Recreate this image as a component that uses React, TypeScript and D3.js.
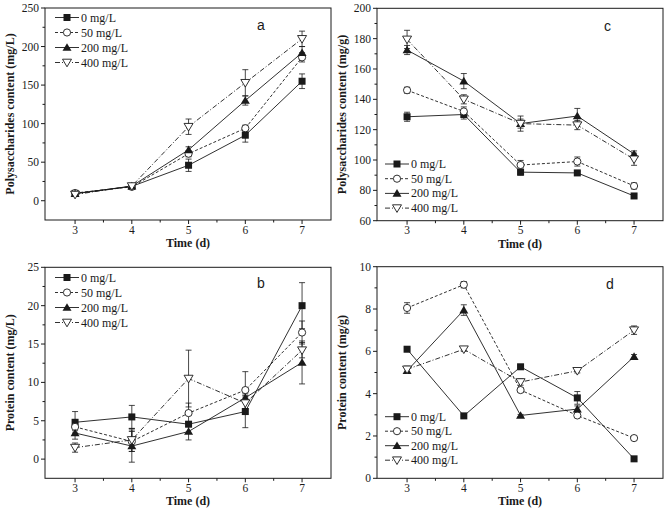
import React from "react";
import * as d3 from "d3";

const days = [3, 4, 5, 6, 7];
const seriesNames = ["0 mg/L", "50 mg/L", "200 mg/L", "400 mg/L"];

// Panel a: Polysaccharides content (mg/L)
const a0 = [9.5, 18.6, 46, 85, 155];
const a0e = [1, 1, 8, 9, 9.5];
const a50 = [10, 18, 61, 94, 186];
const a50e = [1, 1, 4, 4, 6];
const a200 = [9, 19, 66, 130, 192];
const a200e = [1, 1, 4, 6, 8];
const a400 = [8, 19, 96, 153, 210];
const a400e = [1, 2, 10, 17, 10];

// Panel b: Protein content (mg/L)
const b0 = [4.8, 5.5, 4.55, 6.2, 20];
const b0e = [1.4, 1.5, 0.3, 2.1, 3];
const b50 = [4.2, 2.3, 6.0, 9.0, 16.5];
const b50e = [0.5, 1.3, 1.3, 2.4, 1.5];
const b200 = [3.4, 1.7, 3.6, 8.0, 12.6];
const b200e = [0.8, 2.1, 1.1, 0.5, 2.8];
const b400 = [1.5, 2.5, 10.5, 7.3, 14.2];
const b400e = [0.6, 1.5, 3.7, 0.8, 1];

// Panel c: Polysaccharides content (mg/g)
const c0 = [128.5, 130, 92, 91.5, 76.3];
const c0e = [3, 3, 2, 1, 1];
const c50 = [146, 132, 96.7, 99, 82.9];
const c50e = [2, 3, 3, 3, 2];
const c200 = [172.5, 152, 124, 129, 104];
const c200e = [3, 5, 3, 5, 2];
const c400 = [179.5, 140, 124, 123, 100.5];
const c400e = [6, 3, 5, 3, 4];

// Panel d: Protein content (mg/g)
const d0 = [6.1, 2.95, 5.27, 3.8, 0.92];
const d0e = [0.05, 0.05, 0.05, 0.3, 0.05];
const d50 = [8.05, 9.15, 4.17, 2.97, 1.9];
const d50e = [0.25, 0.15, 0.1, 0.1, 0.1];
const d200 = [5.08, 7.95, 2.97, 3.27, 5.75];
const d200e = [0.1, 0.25, 0.05, 0.15, 0.1];
const d400 = [5.15, 6.1, 4.55, 5.08, 7.0];
const d400e = [0.15, 0.1, 0.15, 0.1, 0.2];

const aTicks = [0, 50, 100, 150, 200, 250];
const bTicks = [0, 5, 10, 15, 20, 25];
const cTicks = [60, 80, 100, 120, 140, 160, 180, 200];
const dTicks = [0, 2, 4, 6, 8, 10];
const xMinor = [3.5, 4.5, 5.5, 6.5];

const INK = "#1a1a1a";
const SERIF = "'Liberation Serif', 'Times New Roman', serif";
const SANS = "'Liberation Sans', Arial, sans-serif";
const dashes = [null, "3,2", null, "5,2,1,2"];

type PanelProps = {
  left: number; right: number; top: number; bottom: number;
  yDomain: [number, number]; yTicks: number[]; yMinorStep: number;
  ylabel: string; ylabelX: number; letter: string; letterX: number; letterY: number;
  legX: number; legY: number; legStep: number;
  vals: number[][]; errs: number[][];
};

function Marker({ kind, x, y }: { kind: number; x: number; y: number }) {
  if (kind === 0) return <rect x={x - 3.5} y={y - 3.5} width={7} height={7} fill={INK} />;
  if (kind === 1) return <circle cx={x} cy={y} r={3.6} fill="#fff" stroke={INK} strokeWidth={0.9} />;
  if (kind === 2) return <path d={`M${x},${y - 4.3}L${x + 4.5},${y + 3.3}L${x - 4.5},${y + 3.3}Z`} fill={INK} />;
  return <path d={`M${x},${y + 4.3}L${x + 4.5},${y - 3.3}L${x - 4.5},${y - 3.3}Z`} fill="#fff" stroke={INK} strokeWidth={0.9} />;
}

function Panel(p: PanelProps) {
  const x = d3.scaleLinear().domain([2.47, 7.51]).range([p.left, p.right]);
  const y = d3.scaleLinear().domain(p.yDomain).range([p.bottom, p.top]);
  const line = d3.line<number>().x((_, i) => x(days[i])).y((v) => y(v));
  const minor: number[] = [];
  for (let v = p.yDomain[0]; v <= p.yDomain[1] + 1e-9; v += p.yMinorStep) {
    if (!p.yTicks.some((t) => Math.abs(t - v) < 1e-6) && v > p.yDomain[0] + 1e-6 && v < p.yDomain[1] - 1e-6) minor.push(v);
  }
  const midX = (p.left + p.right) / 2;
  const midY = (p.top + p.bottom) / 2;
  return (
    <g>
      {p.vals.map((vs, k) => (
        <path key={"l" + k} d={line(vs) || ""} fill="none" stroke={INK} strokeWidth={0.9}
          strokeDasharray={dashes[k] || undefined} />
      ))}
      {p.vals.map((vs, k) =>
        vs.map((v, i) => {
          const e = p.errs[k][i];
          const cx = x(days[i]);
          const y1 = y(v + e), y2 = y(v - e);
          return (
            <g key={"e" + k + "-" + i} stroke={INK} strokeWidth={0.8}>
              <line x1={cx} x2={cx} y1={y1} y2={y2} />
              <line x1={cx - 3} x2={cx + 3} y1={y1} y2={y1} />
              <line x1={cx - 3} x2={cx + 3} y1={y2} y2={y2} />
            </g>
          );
        })
      )}
      {p.vals.map((vs, k) =>
        vs.map((v, i) => <Marker key={"m" + k + "-" + i} kind={k} x={x(days[i])} y={y(v)} />)
      )}
      <rect x={p.left} y={p.top} width={p.right - p.left} height={p.bottom - p.top} fill="none" stroke={INK} strokeWidth={1} />
      {p.yTicks.map((t) => (
        <g key={"yt" + t}>
          <line x1={p.left - 4} x2={p.left} y1={y(t)} y2={y(t)} stroke={INK} strokeWidth={1} />
          <text x={p.left - 6} y={y(t) + 4} textAnchor="end" fontSize={11.5} fontFamily={SERIF} fill={INK}>{t}</text>
        </g>
      ))}
      {minor.map((t) => (
        <line key={"ym" + t} x1={p.left - 2.5} x2={p.left} y1={y(t)} y2={y(t)} stroke={INK} strokeWidth={1} />
      ))}
      {days.map((t) => (
        <g key={"xt" + t}>
          <line x1={x(t)} x2={x(t)} y1={p.bottom} y2={p.bottom + 4} stroke={INK} strokeWidth={1} />
          <text x={x(t)} y={p.bottom + 13.5} textAnchor="middle" fontSize={11.5} fontFamily={SERIF} fill={INK}>{t}</text>
        </g>
      ))}
      {xMinor.map((t) => (
        <line key={"xm" + t} x1={x(t)} x2={x(t)} y1={p.bottom} y2={p.bottom + 2.5} stroke={INK} strokeWidth={1} />
      ))}
      <text x={midX} y={p.bottom + 27} textAnchor="middle" fontSize={12} fontWeight="bold" fontFamily={SERIF} fill={INK}>Time (d)</text>
      <text transform={`translate(${p.ylabelX},${midY}) rotate(-90)`} textAnchor="middle" fontSize={12} fontWeight="bold" fontFamily={SERIF} fill={INK}>{p.ylabel}</text>
      <text x={p.letterX} y={p.letterY} fontSize={14} fontFamily={SANS} fill={INK}>{p.letter}</text>
      {seriesNames.map((n, k) => {
        const ly = p.legY + k * p.legStep;
        return (
          <g key={"lg" + k}>
            <line x1={p.legX} x2={p.legX + 24} y1={ly} y2={ly} stroke={INK} strokeWidth={0.9} strokeDasharray={dashes[k] || undefined} />
            <Marker kind={k} x={p.legX + 12} y={ly} />
            <text x={p.legX + 26} y={ly + 4} fontSize={12} fontFamily={SERIF} fill={INK}>{n}</text>
          </g>
        );
      })}
    </g>
  );
}

export default function App() {
  return (
    <svg width={670} height={520} style={{ position: "absolute", left: 0, top: 0, background: "#fff" }}>
      <rect x={0} y={0} width={670} height={520} fill="#fff" />
      <Panel left={45} right={331} top={8} bottom={220} yDomain={[-25, 250]} yTicks={aTicks} yMinorStep={25}
        ylabel="Polysaccharides content (mg/L)" ylabelX={14} letter="a" letterX={257} letterY={30}
        legX={55} legY={17.5} legStep={15}
        vals={[a0, a50, a200, a400]} errs={[a0e, a50e, a200e, a400e]} />
      <Panel left={45} right={331} top={267.3} bottom={478.3} yDomain={[-2.5, 25]} yTicks={bTicks} yMinorStep={2.5}
        ylabel="Protein content (mg/L)" ylabelX={14} letter="b" letterX={257} letterY={288}
        legX={55} legY={277.5} legStep={15}
        vals={[b0, b50, b200, b400]} errs={[b0e, b50e, b200e, b400e]} />
      <Panel left={377} right={663} top={8.3} bottom={220.7} yDomain={[60, 200]} yTicks={cTicks} yMinorStep={10}
        ylabel="Polysaccharides content (mg/g)" ylabelX={346} letter="c" letterX={604} letterY={31}
        legX={385} legY={164} legStep={14.7}
        vals={[c0, c50, c200, c400]} errs={[c0e, c50e, c200e, c400e]} />
      <Panel left={377} right={663} top={266.7} bottom={478.3} yDomain={[0, 10]} yTicks={dTicks} yMinorStep={1}
        ylabel="Protein content (mg/g)" ylabelX={346} letter="d" letterX={606} letterY={289}
        legX={385} legY={416.7} legStep={14.5}
        vals={[d0, d50, d200, d400]} errs={[d0e, d50e, d200e, d400e]} />
    </svg>
  );
}
